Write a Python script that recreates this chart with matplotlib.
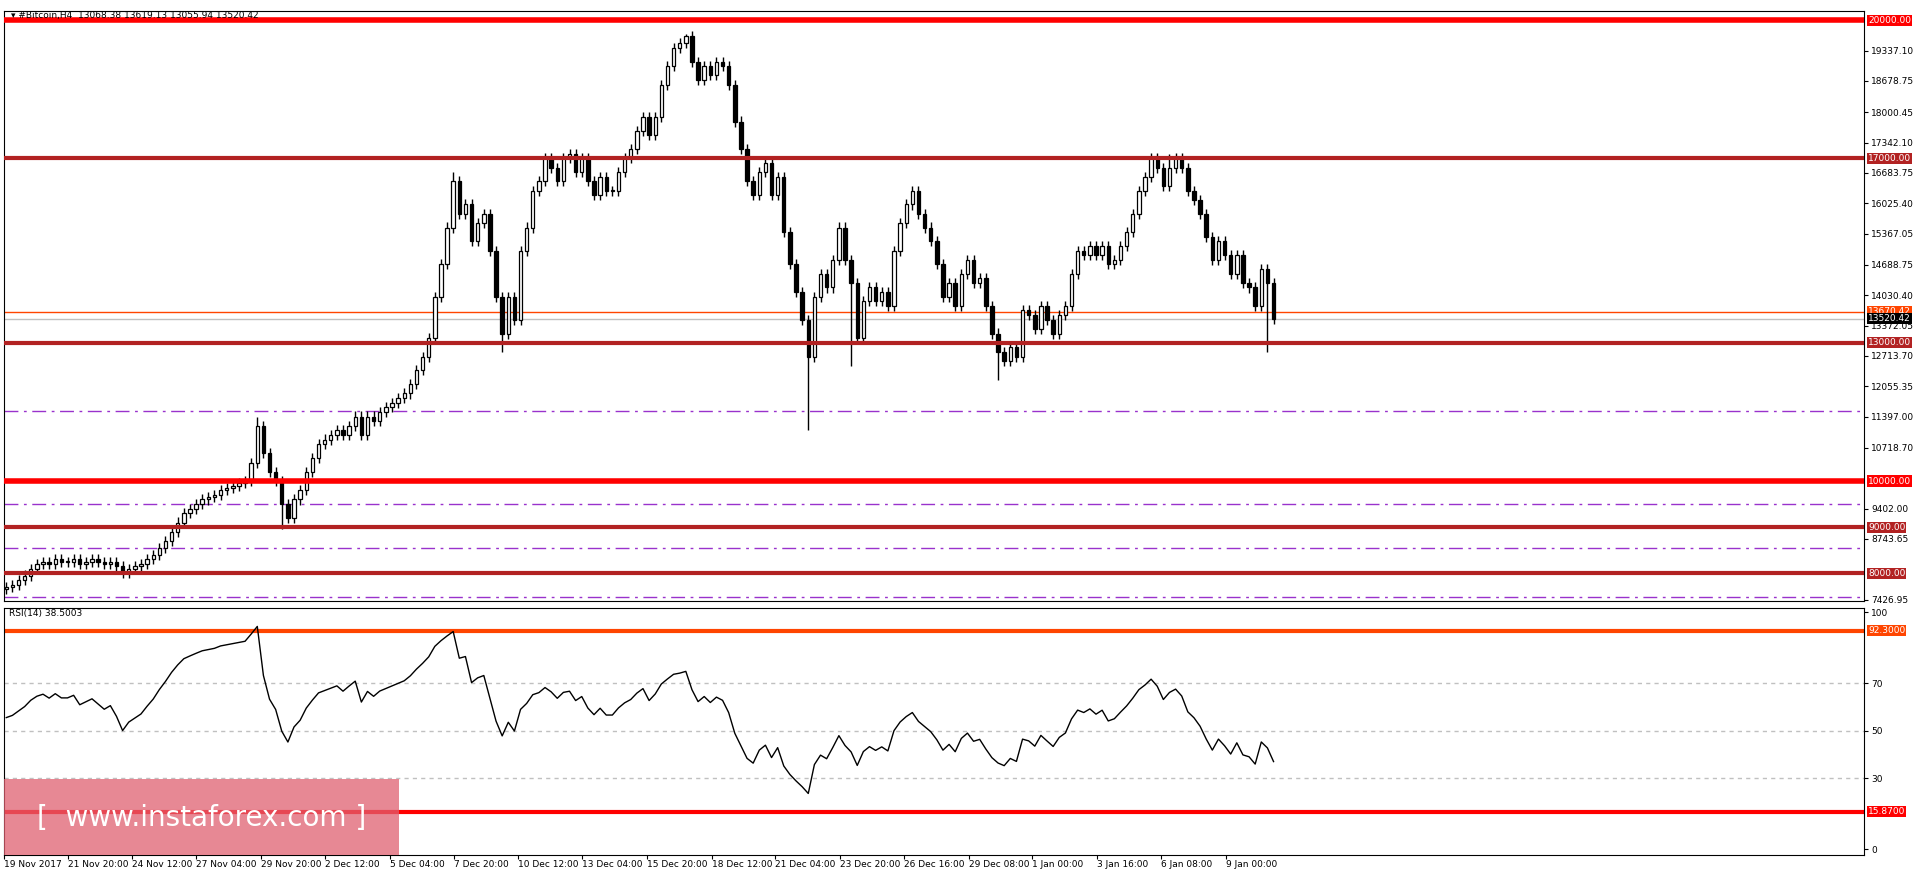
import matplotlib
matplotlib.use("Agg")
import matplotlib.pyplot as plt
from matplotlib.patches import Rectangle
import numpy as np

closes = [7700,7750,7850,7950,8100,8200,8250,8200,8300,8250,8250,8300,8200,8250,8300,8250,8200,8250,8150,8000,
 8100,8150,8200,8300,8400,8550,8700,8900,9100,9300,9400,9500,9600,9650,9700,9800,9850,9900,9950,10000,
 10400,11200,10600,10200,10000,9500,9200,9600,9800,10200,10500,10800,10900,11000,11100,11000,11200,11400,11000,11400,
 11300,11500,11600,11700,11800,11900,12100,12400,12700,13100,14000,14700,15500,16500,15800,16000,15200,15600,15800,15000,
 14000,13200,14000,13500,15000,15500,16300,16500,17000,16800,16500,17000,17100,16700,17000,16500,16200,16600,16300,16300,
 16700,17000,17200,17600,17900,17500,17900,18600,19000,19400,19500,19650,19100,18700,19000,18800,19100,19000,18600,17800,
 17200,16500,16200,16700,16900,16200,16600,15400,14700,14100,13500,12700,14000,14500,14200,14800,15500,14800,14300,13100,
 13900,14200,13900,14100,13800,15000,15600,16000,16300,15800,15500,15200,14700,14000,14300,13800,14500,14800,14300,14400,
 13800,13200,12800,12600,12900,12700,13700,13600,13300,13800,13500,13200,13600,13800,14500,15000,14900,15100,14900,15100,
 14700,14800,15100,15400,15800,16300,16600,17000,16800,16400,16800,17000,16800,16300,16100,15800,15300,14800,15200,14900,
 14500,14900,14300,14200,13800,14600,14300,13520]
first_open = 7650
long_lows = {45: 8950, 81: 12800, 131: 11100, 138: 12500, 162: 12200, 206: 12800}
long_highs = {41: 11400, 73: 16700, 111: 19700, 190: 17100}

tick_labels = ["19 Nov 2017","21 Nov 20:00","24 Nov 12:00","27 Nov 04:00","29 Nov 20:00","2 Dec 12:00",
 "5 Dec 04:00","7 Dec 20:00","10 Dec 12:00","13 Dec 04:00","15 Dec 20:00","18 Dec 12:00","21 Dec 04:00",
 "23 Dec 20:00","26 Dec 16:00","29 Dec 08:00","1 Jan 00:00","3 Jan 16:00","6 Jan 08:00","9 Jan 00:00"]
tick_pos = [-0.4,10,20.6,31,41.6,52,62.6,73.2,83.6,94,104.6,115.2,125.6,136.2,146.6,157.2,167.6,178.2,188.6,199.2]

price_ticks = [19337.10,18678.75,18000.45,17342.10,16683.75,16025.40,15367.05,14688.75,14030.40,13372.05,
 12713.70,12055.35,11397.00,10718.70,9402.00,8743.65,7426.95]
levels = [(20000,'#ff0000',4,'20000.00'),(17000,'#b22222',3,'17000.00'),(13000,'#b22222',3,'13000.00'),
 (10000,'#ff0000',4,'10000.00'),(9000,'#b22222',3,'9000.00'),(8000,'#b22222',3,'8000.00')]
purple_levels = [11520, 9500, 8540, 7480]

c = np.array(closes, float)
o = np.concatenate([[first_open], c[:-1]])
n = len(c)

FS = 6.5
fig = plt.figure(figsize=(19.2, 8.72), dpi=100)
L, R = 0.002, 0.971
ax = fig.add_axes([L, 0.311, R-L, 0.676])
ax2 = fig.add_axes([L, 0.0196, R-L, 0.2834])
xmin, xmax = -0.4, 303.5
for a in (ax, ax2):
    a.set_xlim(xmin, xmax)
    a.yaxis.tick_right()
    a.tick_params(axis='y', labelsize=FS, length=3, pad=2)
ax.set_ylim(7402, 20190)
ax.set_yticks(price_ticks)
ax.set_yticklabels([f"{t:.2f}" for t in price_ticks])
ax.set_xticks([])

for i in range(n):
    hi = max(o[i], c[i]) + 110
    lo = min(o[i], c[i]) - 110
    hi = long_highs.get(i, hi); lo = long_lows.get(i, lo)
    ax.vlines(i, lo, hi, color='black', lw=1, zorder=3)
    up = c[i] >= o[i]
    b = min(o[i], c[i]); h = max(abs(c[i]-o[i]), 15)
    ax.add_patch(Rectangle((i-0.28, b), 0.56, h, facecolor='white' if up else 'black',
                           edgecolor='black', lw=0.9, zorder=4))

trans = ax.get_yaxis_transform()
def label(a, tr, y, txt, col, z=10):
    a.text(1.002, y, txt, transform=tr, color='white', fontsize=FS, va='center', ha='left',
           bbox=dict(boxstyle='square,pad=0.12', fc=col, ec='none'), clip_on=False, zorder=z)
for y, col, lw, lab in levels:
    ax.axhline(y, color=col, lw=lw, zorder=5)
    label(ax, trans, y, lab, col)
for y in purple_levels:
    ax.axhline(y, color='#9932cc', lw=1, ls=(0, (10, 4, 2, 4)), zorder=2)
ax.axhline(13670.42, color='#ff4500', lw=1, zorder=2)
ax.axhline(13520.42, color='#c0c0c0', lw=1, zorder=2)
label(ax, trans, 13670.42, '13670.42', '#ff4500')
label(ax, trans, 13520.42, '13520.42', 'black', 11)
ax.text(0.004, 1.0, "\u25BE #Bitcoin,H4  13068.38 13619.13 13055.94 13520.42", transform=ax.transAxes,
        fontsize=FS, va='top', ha='left', zorder=12)

# RSI(14), Wilder smoothing
d = np.diff(np.concatenate([[first_open], c]))
g = np.where(d > 0, d, 0); l = np.where(d < 0, -d, 0)
ag = np.zeros(n); al = np.zeros(n)
ag[0], al[0] = 100.0, 80.0
for i in range(1, n):
    ag[i] = ag[i-1] + (g[i]-ag[i-1])/14
    al[i] = al[i-1] + (l[i]-al[i-1])/14
rsi = 100 - 100/(1 + ag/np.maximum(al, 1e-9))
ax2.plot(np.arange(n), rsi, color='black', lw=1, zorder=3)
ax2.set_ylim(-2.4, 101.9)
ax2.set_yticks([0, 30, 50, 70, 100])
ax2.set_yticklabels(['0', '30', '50', '70', '100'])
for y in (30, 50, 70):
    ax2.axhline(y, color='#c0c0c0', lw=1, ls=(0, (3, 3)))
t2 = ax2.get_yaxis_transform()
ax2.axhline(92.3, color='#ff4500', lw=3)
ax2.axhline(15.87, color='#ff0000', lw=3)
label(ax2, t2, 92.3, '92.3000', '#ff4500')
label(ax2, t2, 15.87, '15.8700', '#ff0000')
ax2.text(0.003, 0.995, "RSI(14) 38.5003", transform=ax2.transAxes, fontsize=FS, va='top')
ax2.set_xticks(tick_pos)
ax2.set_xticklabels(tick_labels, ha='left', fontsize=FS)
ax2.tick_params(axis='x', length=3, pad=1)

fig.patches.append(Rectangle((0.002, 0.0196), 0.206, 0.087, transform=fig.transFigure,
                             facecolor='#e06070', alpha=0.75, edgecolor='none', zorder=20))
fig.text(0.105, 0.062, "[  www.instaforex.com ]", color='white', fontsize=20, ha='center', va='center', zorder=21)

fig.savefig("out.png", dpi=100, facecolor='white')
